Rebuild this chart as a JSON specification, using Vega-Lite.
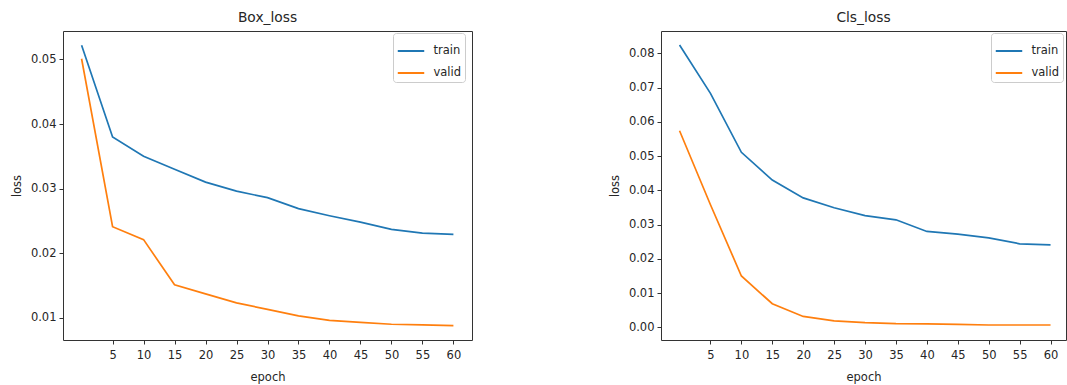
{
  "$schema": "https://vega.github.io/schema/vega-lite/v6.json",
  "background": "white",
  "padding": {"left": 10, "top": 10, "right": 1, "bottom": 0},
  "bounds": "flush",
  "spacing": 189,
  "config": {
    "font": "DejaVu Sans",
    "view": {"stroke": "#333333", "strokeWidth": 1},
    "axis": {
      "grid": false,
      "domain": false,
      "ticks": true,
      "tickColor": "#333333",
      "tickSize": 4,
      "tickWidth": 1,
      "labelPadding": 3,
      "labelFont": "DejaVu Sans",
      "labelFontSize": 11.5,
      "labelColor": "#262626",
      "titleFont": "DejaVu Sans",
      "titleFontSize": 11.5,
      "titleFontWeight": "normal",
      "titleColor": "#262626"
    },
    "title": {"font": "DejaVu Sans", "fontSize": 13.8, "fontWeight": "normal", "color": "#262626", "offset": 6},
    "legend": {
      "orient": "none",
      "legendX": 330,
      "legendY": 2,
      "fillColor": "white",
      "strokeColor": "#cccccc",
      "cornerRadius": 3,
      "padding": 3.5,
      "symbolType": "stroke",
      "symbolSize": 700,
      "symbolStrokeWidth": 2,
      "labelFont": "DejaVu Sans",
      "labelFontSize": 11.5,
      "labelColor": "#262626",
      "labelOffset": 8,
      "rowPadding": 2
    }
  },
  "datasets": {
    "box": [
      {"epoch": 0, "loss": 0.0522, "set": "train"},
      {"epoch": 5, "loss": 0.0380, "set": "train"},
      {"epoch": 10, "loss": 0.0350, "set": "train"},
      {"epoch": 15, "loss": 0.0330, "set": "train"},
      {"epoch": 20, "loss": 0.0310, "set": "train"},
      {"epoch": 25, "loss": 0.0296, "set": "train"},
      {"epoch": 30, "loss": 0.0286, "set": "train"},
      {"epoch": 35, "loss": 0.0269, "set": "train"},
      {"epoch": 40, "loss": 0.0258, "set": "train"},
      {"epoch": 45, "loss": 0.0248, "set": "train"},
      {"epoch": 50, "loss": 0.0237, "set": "train"},
      {"epoch": 55, "loss": 0.0231, "set": "train"},
      {"epoch": 60, "loss": 0.0229, "set": "train"},
      {"epoch": 0, "loss": 0.0501, "set": "valid"},
      {"epoch": 5, "loss": 0.0241, "set": "valid"},
      {"epoch": 10, "loss": 0.0221, "set": "valid"},
      {"epoch": 15, "loss": 0.0151, "set": "valid"},
      {"epoch": 20, "loss": 0.0137, "set": "valid"},
      {"epoch": 25, "loss": 0.0123, "set": "valid"},
      {"epoch": 30, "loss": 0.0113, "set": "valid"},
      {"epoch": 35, "loss": 0.0103, "set": "valid"},
      {"epoch": 40, "loss": 0.0096, "set": "valid"},
      {"epoch": 45, "loss": 0.0093, "set": "valid"},
      {"epoch": 50, "loss": 0.0090, "set": "valid"},
      {"epoch": 55, "loss": 0.0089, "set": "valid"},
      {"epoch": 60, "loss": 0.0088, "set": "valid"}
    ],
    "cls": [
      {"epoch": 0, "loss": 0.0824, "set": "train"},
      {"epoch": 5, "loss": 0.0683, "set": "train"},
      {"epoch": 10, "loss": 0.0511, "set": "train"},
      {"epoch": 15, "loss": 0.0430, "set": "train"},
      {"epoch": 20, "loss": 0.0378, "set": "train"},
      {"epoch": 25, "loss": 0.0349, "set": "train"},
      {"epoch": 30, "loss": 0.0326, "set": "train"},
      {"epoch": 35, "loss": 0.0314, "set": "train"},
      {"epoch": 40, "loss": 0.0280, "set": "train"},
      {"epoch": 45, "loss": 0.0272, "set": "train"},
      {"epoch": 50, "loss": 0.0261, "set": "train"},
      {"epoch": 55, "loss": 0.0244, "set": "train"},
      {"epoch": 60, "loss": 0.0241, "set": "train"},
      {"epoch": 0, "loss": 0.0574, "set": "valid"},
      {"epoch": 5, "loss": 0.0358, "set": "valid"},
      {"epoch": 10, "loss": 0.0150, "set": "valid"},
      {"epoch": 15, "loss": 0.0069, "set": "valid"},
      {"epoch": 20, "loss": 0.0032, "set": "valid"},
      {"epoch": 25, "loss": 0.0019, "set": "valid"},
      {"epoch": 30, "loss": 0.0014, "set": "valid"},
      {"epoch": 35, "loss": 0.0011, "set": "valid"},
      {"epoch": 40, "loss": 0.0010, "set": "valid"},
      {"epoch": 45, "loss": 0.0009, "set": "valid"},
      {"epoch": 50, "loss": 0.0007, "set": "valid"},
      {"epoch": 55, "loss": 0.0007, "set": "valid"},
      {"epoch": 60, "loss": 0.0007, "set": "valid"}
    ]
  },
  "resolve": {"scale": {"x": "independent", "y": "independent"}, "legend": {"color": "independent"}},
  "hconcat": [
    {
      "title": "Box_loss",
      "width": 409,
      "height": 309,
      "data": {"name": "box"},
      "mark": {"type": "line", "strokeWidth": 1.7},
      "encoding": {
        "x": {"field": "epoch", "type": "quantitative",
          "scale": {"domain": [-3, 63], "nice": false, "zero": false},
          "axis": {"values": [5, 10, 15, 20, 25, 30, 35, 40, 45, 50, 55, 60], "title": "epoch", "labelPadding": 5, "titlePadding": 11}},
        "y": {"field": "loss", "type": "quantitative",
          "scale": {"domain": [0.00656, 0.0544], "nice": false, "zero": false},
          "axis": {"values": [0.01, 0.02, 0.03, 0.04, 0.05], "format": ".2f", "title": "loss", "titlePadding": 8}},
        "color": {"field": "set", "type": "nominal",
          "scale": {"domain": ["train", "valid"], "range": ["#1f77b4", "#ff7f0e"]},
          "legend": {"title": null}}
      }
    },
    {
      "title": "Cls_loss",
      "width": 405,
      "height": 309,
      "data": {"name": "cls"},
      "mark": {"type": "line", "strokeWidth": 1.7},
      "encoding": {
        "x": {"field": "epoch", "type": "quantitative",
          "scale": {"domain": [-3, 62.5], "nice": false, "zero": false},
          "axis": {"values": [5, 10, 15, 20, 25, 30, 35, 40, 45, 50, 55, 60], "title": "epoch", "labelPadding": 5, "titlePadding": 11}},
        "y": {"field": "loss", "type": "quantitative",
          "scale": {"domain": [-0.00368, 0.0865], "nice": false, "zero": false},
          "axis": {"values": [0, 0.01, 0.02, 0.03, 0.04, 0.05, 0.06, 0.07, 0.08], "format": ".2f", "title": "loss", "titlePadding": 8}},
        "color": {"field": "set", "type": "nominal",
          "scale": {"domain": ["train", "valid"], "range": ["#1f77b4", "#ff7f0e"]},
          "legend": {"title": null}}
      }
    }
  ]
}
